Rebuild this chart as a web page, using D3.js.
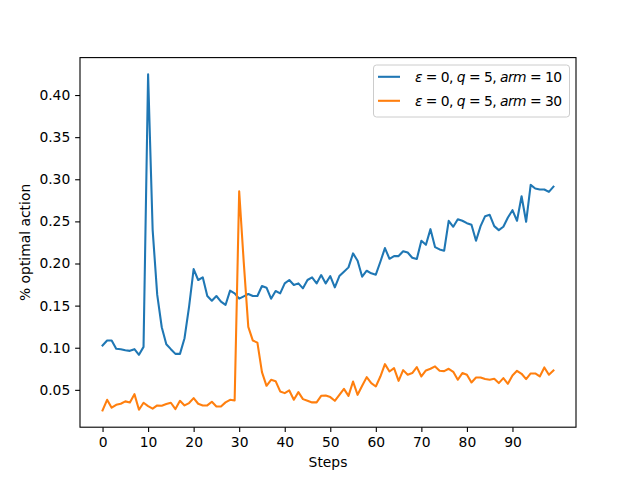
<!DOCTYPE html>
<html><head><meta charset="utf-8">
<script src="https://cdn.jsdelivr.net/npm/d3@7"></script>
<style>body{margin:0;background:#fff}svg{display:block}text{font-family:"DejaVu Sans",sans-serif}</style>
</head><body>
<script>
const steps = d3.range(100);
const arm10 = [0.1026,0.1085,0.1085,0.0987,0.0983,0.0971,0.0963,0.0983,0.0916,0.1010,
0.4245,0.2400,0.1630,0.1243,0.1042,0.0983,0.0927,0.0927,0.1113,0.1488,
0.1934,0.1804,0.1836,0.1614,0.1559,0.1614,0.1547,0.1508,0.1678,0.1646,
0.1583,0.1610,0.1638,0.1614,0.1614,0.1733,0.1713,0.1582,0.1673,0.1646,
0.1764,0.1804,0.1745,0.1764,0.1705,0.1804,0.1835,0.1764,0.1863,0.1764,
0.1851,0.1717,0.1851,0.1902,0.1954,0.2120,0.2033,0.1843,0.1914,0.1883,
0.1867,0.2021,0.2183,0.2056,0.2088,0.2088,0.2145,0.2130,0.2068,0.2053,
0.2270,0.2222,0.2408,0.2195,0.2167,0.2151,0.2507,0.2436,0.2526,0.2507,
0.2479,0.2459,0.2270,0.2444,0.2562,0.2578,0.2444,0.2396,0.2436,0.2546,
0.2633,0.2507,0.2799,0.2495,0.2933,0.2890,0.2878,0.2878,0.2850,0.2913];
const arm30 = [0.0256,0.0382,0.0288,0.0323,0.0335,0.0363,0.0351,0.0449,0.0264,0.0347,
0.0307,0.0276,0.0315,0.0311,0.0331,0.0347,0.0272,0.0370,0.0315,0.0343,
0.0402,0.0335,0.0315,0.0315,0.0359,0.0303,0.0303,0.0351,0.0382,0.0374,
0.2858,0.2017,0.1247,0.1085,0.1061,0.0710,0.0548,0.0619,0.0603,0.0481,
0.0461,0.0493,0.0382,0.0473,0.0390,0.0370,0.0351,0.0351,0.0429,0.0433,
0.0414,0.0370,0.0441,0.0512,0.0429,0.0599,0.0441,0.0548,0.0651,0.0579,
0.0540,0.0658,0.0805,0.0718,0.0757,0.0607,0.0734,0.0679,0.0699,0.0770,
0.0659,0.0730,0.0750,0.0778,0.0726,0.0722,0.0750,0.0714,0.0620,0.0699,
0.0679,0.0588,0.0647,0.0647,0.0628,0.0620,0.0631,0.0580,0.0639,0.0572,
0.0671,0.0726,0.0691,0.0628,0.0695,0.0695,0.0659,0.0766,0.0679,0.0730];
const xTicks = [0,10,20,30,40,50,60,70,80,90];
const yTicks = [0.05,0.10,0.15,0.20,0.25,0.30,0.35,0.40];
const seriesNames = [["10", "#1f77b4"], ["30", "#ff7f0e"]];
const seriesData = [arm10, arm30];

const W = 640, H = 480;
const L = 80, R = 576, T = 57.6, B = 427.2;
const svg = d3.select("body").append("svg").attr("width", W).attr("height", H);

const xPad = (99 - 0) * 0.05;
const x = d3.scaleLinear().domain([0 - xPad, 99 + xPad]).range([L, R]);
const all = arm10.concat(arm30);
const ymin = d3.min(all), ymax = d3.max(all), yPad = (ymax - ymin) * 0.05;
const y = d3.scaleLinear().domain([ymin - yPad, ymax + yPad]).range([B, T]);

const fs = 13.89;
const line = d3.line().x((d, i) => x(steps[i])).y(d => y(d));
seriesData.forEach((s, k) => {
  svg.append("path").datum(s).attr("d", line).attr("fill", "none")
    .attr("stroke", seriesNames[k][1]).attr("stroke-width", 2.08)
    .attr("stroke-linejoin", "round").attr("stroke-linecap", "square");
});

const xAxis = svg.append("g").attr("transform", `translate(0,${B})`)
  .call(d3.axisBottom(x).tickValues(xTicks).tickFormat(d3.format("d")).tickSize(4.86).tickPadding(4.86));
const yAxis = svg.append("g").attr("transform", `translate(${L},0)`)
  .call(d3.axisLeft(y).tickValues(yTicks).tickFormat(d3.format(".2f")).tickSize(4.86).tickPadding(4.86));
[xAxis, yAxis].forEach(g => {
  g.select(".domain").remove();
  g.selectAll("line").attr("stroke", "#000").attr("stroke-width", 1.1);
  g.selectAll("text").attr("font-size", fs).attr("fill", "#000").attr("font-family", "DejaVu Sans");
});
xAxis.selectAll("text").attr("dy", "0.75em");

svg.append("rect").attr("x", L).attr("y", T).attr("width", R - L).attr("height", B - T)
  .attr("fill", "none").attr("stroke", "#000").attr("stroke-width", 1.1);

svg.append("text").attr("x", (L + R) / 2).attr("y", 467).attr("text-anchor", "middle")
  .attr("font-size", fs).text("Steps");
svg.append("text").attr("transform", `translate(30,${(T + B) / 2}) rotate(-90)`)
  .attr("text-anchor", "middle").attr("font-size", fs).text("% optimal action");

// legend
const lg = svg.append("g");
lg.append("rect").attr("x", 373.5).attr("y", 65).attr("width", 196).attr("height", 52)
  .attr("rx", 3).attr("fill", "#fff").attr("fill-opacity", 0.8)
  .attr("stroke", "#cccccc").attr("stroke-width", 1);
seriesNames.forEach((s, k) => {
  const cy = 76.8 + k * 24;
  lg.append("line").attr("x1", 378).attr("x2", 400).attr("y1", cy).attr("y2", cy)
    .attr("stroke", s[1]).attr("stroke-width", 2.08);
  const t = lg.append("text").attr("x", 415).attr("y", cy + 5).attr("font-size", fs)
    .attr("textLength", 147).attr("lengthAdjust", "spacing");
  t.append("tspan").attr("font-style", "italic").text("ε");
  t.append("tspan").text(" = 0, ");
  t.append("tspan").attr("font-style", "italic").text("q");
  t.append("tspan").text(" = 5, ");
  t.append("tspan").attr("font-style", "italic").text("arm");
  t.append("tspan").text(" = " + s[0]);
});
</script>
</body></html>
